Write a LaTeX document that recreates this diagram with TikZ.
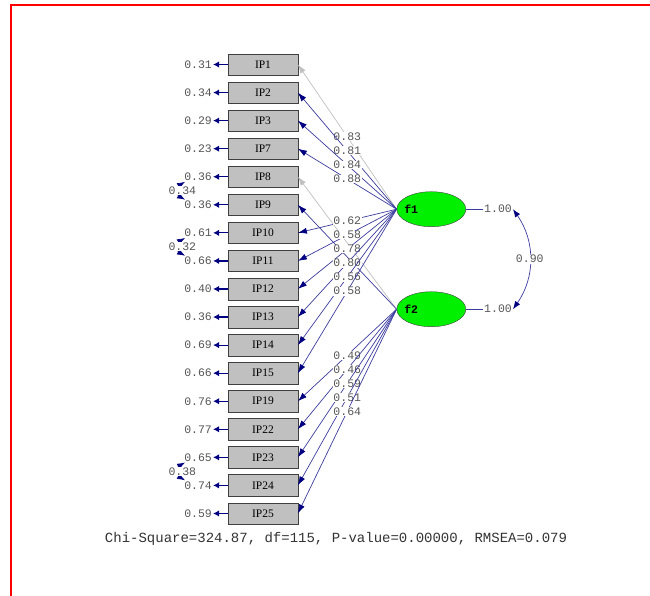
\documentclass[tikz,border=0pt]{standalone}
\usepackage{fontspec}
\setmainfont{Liberation Serif}
\newfontfamily\lismono{Liberation Mono}
\usetikzlibrary{arrows.meta,positioning,shapes.geometric}
\definecolor{lisblue}{RGB}{60,60,160}
\definecolor{lisnavy}{RGB}{0,0,128}
\definecolor{lisgray}{RGB}{192,192,192}
\definecolor{lisgreen}{RGB}{0,240,0}
\definecolor{numgray}{RGB}{85,85,85}

\begin{document}
\begin{tikzpicture}[
    x=1pt, y=1pt,
    node distance=28.06pt,
    item/.style={rectangle, draw=black!75, fill=lisgray, minimum width=69.4pt, minimum height=21.5pt, inner sep=0pt, font=\fontsize{11.5}{11.5}\selectfont},
    factor/.style={ellipse, draw=black!75, fill=lisgreen, minimum width=69pt, minimum height=35pt, inner sep=0pt, font=\lismono\bfseries\fontsize{11.5}{11.5}\selectfont},
    num/.style={font=\lismono\fontsize{11.5}{11.5}\selectfont, text=numgray, inner sep=1pt},
    lbl/.style={num, fill=white, inner sep=0.5pt},
    load/.style={draw=lisblue, line width=0.7pt, -{Latex[length=9pt,width=6pt,color=lisnavy]}},
    fixed/.style={draw=lisgray, line width=0.7pt, -{Latex[length=9pt,width=6pt]}},
    err/.style={draw=lisnavy, line width=1.2pt, -{Latex[length=6pt,width=6.5pt]}},
    cov/.style={draw=lisblue, line width=0.7pt, {Latex[length=8pt,width=6pt,color=lisnavy]}-{Latex[length=8pt,width=6pt,color=lisnavy]}}
]
    \useasboundingbox (0,0) rectangle (650,-596);

    % Frame
    \fill[red] (10,-4) rectangle (650,-6);
    \fill[red] (10,-4) rectangle (12,-596);

    % Items
    \node[item] (IP1) at (263,-64.5) {IP1};
    \node[item, below of=IP1] (IP2) {IP2};
    \node[item, below of=IP2] (IP3) {IP3};
    \node[item, below of=IP3] (IP7) {IP7};
    \node[item, below of=IP7] (IP8) {IP8};
    \node[item, below of=IP8] (IP9) {IP9};
    \node[item, below of=IP9] (IP10) {IP10};
    \node[item, below of=IP10] (IP11) {IP11};
    \node[item, below of=IP11] (IP12) {IP12};
    \node[item, below of=IP12] (IP13) {IP13};
    \node[item, below of=IP13] (IP14) {IP14};
    \node[item, below of=IP14] (IP15) {IP15};
    \node[item, below of=IP15] (IP19) {IP19};
    \node[item, below of=IP19] (IP22) {IP22};
    \node[item, below of=IP22] (IP23) {IP23};
    \node[item, below of=IP23] (IP24) {IP24};
    \node[item, below of=IP24] (IP25) {IP25};

    % Error variances
    \node[num, left=15pt of IP1] (e1) {0.31};
    \node[num, left=15pt of IP2] (e2) {0.34};
    \node[num, left=15pt of IP3] (e3) {0.29};
    \node[num, left=15pt of IP7] (e7) {0.23};
    \node[num, left=15pt of IP8] (e8) {0.36};
    \node[num, left=15pt of IP9] (e9) {0.36};
    \node[num, left=15pt of IP10] (e10) {0.61};
    \node[num, left=15pt of IP11] (e11) {0.66};
    \node[num, left=15pt of IP12] (e12) {0.40};
    \node[num, left=15pt of IP13] (e13) {0.36};
    \node[num, left=15pt of IP14] (e14) {0.69};
    \node[num, left=15pt of IP15] (e15) {0.66};
    \node[num, left=15pt of IP19] (e19) {0.76};
    \node[num, left=15pt of IP22] (e22) {0.77};
    \node[num, left=15pt of IP23] (e23) {0.65};
    \node[num, left=15pt of IP24] (e24) {0.74};
    \node[num, left=15pt of IP25] (e25) {0.59};

    \draw[err] (IP1) -- (e1);
    \draw[err] (IP2) -- (e2);
    \draw[err] (IP3) -- (e3);
    \draw[err] (IP7) -- (e7);
    \draw[err] (IP8) -- (e8);
    \draw[err] (IP9) -- (e9);
    \draw[err] (IP10) -- (e10);
    \draw[err] (IP11) -- (e11);
    \draw[err] (IP12) -- (e12);
    \draw[err] (IP13) -- (e13);
    \draw[err] (IP14) -- (e14);
    \draw[err] (IP15) -- (e15);
    \draw[err] (IP19) -- (e19);
    \draw[err] (IP22) -- (e22);
    \draw[err] (IP23) -- (e23);
    \draw[err] (IP24) -- (e24);
    \draw[err] (IP25) -- (e25);

    % Error covariances
    \draw[cov] ([xshift=2pt]e8.south west) to[bend right=60, looseness=1.5] node[lbl, xshift=4pt] {0.34} ([xshift=2pt]e9.north west);
    \draw[cov] ([xshift=2pt]e10.south west) to[bend right=60, looseness=1.5] node[lbl, xshift=4pt] {0.32} ([xshift=2pt]e11.north west);
    \draw[cov] ([xshift=2pt]e23.south west) to[bend right=60, looseness=1.5] node[lbl, xshift=4pt] {0.38} ([xshift=2pt]e24.north west);

    % Factors
    \node[factor] (f1) at (431.3,-209.2) {\makebox[0pt][l]{\hspace{-27pt}f1}};
    \node[factor] (f2) at (431.3,-309.2) {\makebox[0pt][l]{\hspace{-27pt}f2}};

    \node[num, right=17pt of f1] (v1) {1.00};
    \node[num, right=17pt of f2] (v2) {1.00};
    \draw[lisblue, line width=0.7pt] (f1) -- (v1);
    \draw[lisblue, line width=0.7pt] (f2) -- (v2);
    \draw[cov] (v1.east) to[bend left=35] node[lbl] {0.90} (v2.east);

    % Loadings
    \draw[fixed] (f1.west) -- node[lbl] {0.83} (IP1.east);
    \draw[fixed] (f2.west) -- (IP8.east);
    \draw[load] (f2.west) -- (IP9.east);
    \draw[load] (f1.west) -- node[lbl] {0.81} (IP2.east);
    \draw[load] (f1.west) -- node[lbl] {0.84} (IP3.east);
    \draw[load] (f1.west) -- node[lbl] {0.88} (IP7.east);
    \draw[load] (f1.west) -- node[lbl] {0.62} (IP10.east);
    \draw[load] (f1.west) -- node[lbl] {0.58} (IP11.east);
    \draw[load] (f1.west) -- node[lbl] {0.78} (IP12.east);
    \draw[load] (f1.west) -- node[lbl] {0.80} (IP13.east);
    \draw[load] (f1.west) -- node[lbl] {0.56} (IP14.east);
    \draw[load] (f1.west) -- node[lbl] {0.58} (IP15.east);
    \draw[load] (f2.west) -- node[lbl] {0.49} (IP19.east);
    \draw[load] (f2.west) -- node[lbl] {0.46} (IP22.east);
    \draw[load] (f2.west) -- node[lbl] {0.59} (IP23.east);
    \draw[load] (f2.west) -- node[lbl] {0.51} (IP24.east);
    \draw[load] (f2.west) -- node[lbl] {0.64} (IP25.east);

    % Fit statistics
    \node[font=\lismono\fontsize{14}{14}\selectfont, text=black!80] (fit) at (336,-539) {Chi-Square=324.87, df=115, P-value=0.00000, RMSEA=0.079};
\end{tikzpicture}
\end{document}
